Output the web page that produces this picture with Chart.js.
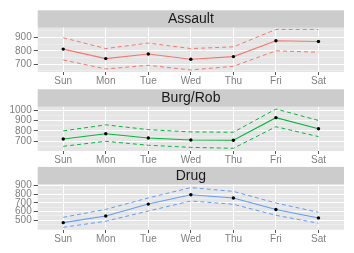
<!DOCTYPE html>
<html>
<head>
<meta charset="utf-8">
<script src="https://cdn.jsdelivr.net/npm/chart.js@4/dist/chart.umd.min.js"></script>
<style>
  html, body { margin: 0; padding: 0; background: #ffffff; }
  body { width: 354px; height: 253px; position: relative; overflow: hidden; }
  canvas { position: absolute; left: 0; pointer-events: none; }
</style>
</head>
<body>
<canvas id="assaultChart" width="354" height="88"></canvas>
<canvas id="burgChart" width="354" height="87"></canvas>
<canvas id="drugChart" width="354" height="86"></canvas>
<script>
const days = ['Sun', 'Mon', 'Tue', 'Wed', 'Thu', 'Fri', 'Sat'];

const assaultMean  = [813, 742, 777, 737, 757, 875, 870];
const assaultUpper = [898, 817, 858, 817, 830, 960, 960];
const assaultLower = [732, 665, 692, 657, 685, 800, 790];

const burgMean  = [722, 773, 732, 712, 710, 927, 821];
const burgUpper = [800, 858, 812, 790, 787, 1010, 900];
const burgLower = [652, 700, 662, 642, 633, 840, 745];

const drugMean  = [473, 549, 685, 792, 754, 624, 527];
const drugUpper = [534, 625, 755, 873, 830, 697, 591];
const drugLower = [420, 489, 606, 720, 683, 557, 466];

const assaultTicks = [700, 800, 900];
const burgTicks = [700, 800, 900, 1000];
const drugTicks = [500, 600, 700, 800, 900];

const FONT = '"Liberation Sans", Arial, sans-serif';

// grey panel + facet strip behind everything
const panelPlugin = {
    id: 'panel',
    beforeDraw(chart, args, opts) {
        const { ctx, chartArea: a } = chart;
        ctx.save();
        ctx.fillStyle = '#e5e5e5';
        ctx.fillRect(a.left, a.top, a.right - a.left, a.bottom - a.top);
        ctx.fillStyle = '#cccccc';
        ctx.fillRect(a.left, a.top - opts.stripHeight, a.right - a.left, opts.stripHeight);
        ctx.fillStyle = '#1a1a1a';
        ctx.font = '14px ' + FONT;
        ctx.textAlign = 'center';
        ctx.textBaseline = 'middle';
        ctx.fillText(opts.title, (a.left + a.right) / 2, a.top - opts.stripHeight / 2 + 0.5);
        ctx.restore();
    }
};

function points(values) {
    return values.map((v, i) => ({ x: i, y: v }));
}

function makePanel(id, title, mean, upper, lower, majors, range, color, canvasTop, plotTop) {
    const canvas = document.getElementById(id);
    canvas.style.top = canvasTop + 'px';
    const step = majors[1] - majors[0];
    const half = step / 2;

    return new Chart(canvas.getContext('2d'), {
        type: 'line',
        data: {
            datasets: [{
                data: points(upper),
                borderColor: color,
                borderWidth: 1,
                borderDash: [4, 3],
                pointRadius: 0
            }, {
                data: points(lower),
                borderColor: color,
                borderWidth: 1,
                borderDash: [4, 3],
                pointRadius: 0
            }, {
                data: points(mean),
                borderColor: color,
                borderWidth: 1.1,
                pointRadius: 1.7,
                pointBorderWidth: 0,
                pointBackgroundColor: '#000000'
            }]
        },
        plugins: [panelPlugin],
        options: {
            responsive: false,
            animation: false,
            devicePixelRatio: 1,
            layout: { padding: { top: plotTop - canvasTop, right: 10, left: 0, bottom: 0 } },
            elements: { line: { tension: 0 } },
            plugins: {
                legend: { display: false },
                tooltip: { enabled: false },
                panel: { title: title, stripHeight: 17.4 }
            },
            scales: {
                x: {
                    type: 'linear',
                    min: -0.6,
                    max: 6.6,
                    afterBuildTicks: scale => { scale.ticks = days.map((d, i) => ({ value: i })); },
                    afterFit: scale => { scale.height = 16; },
                    border: { display: false },
                    grid: { color: '#ffffff', lineWidth: 1, tickLength: 3, tickColor: '#555555' },
                    ticks: {
                        autoSkip: false,
                        maxRotation: 0,
                        padding: 0,
                        color: '#7f7f7f',
                        font: { family: FONT, size: 10 },
                        callback: v => days[v]
                    }
                },
                y: {
                    min: range[0],
                    max: range[1],
                    afterBuildTicks: scale => {
                        const list = [];
                        for (let v = Math.ceil(range[0] / half) * half; v <= range[1]; v += half) {
                            list.push({ value: v });
                        }
                        scale.ticks = list;
                    },
                    afterFit: scale => { scale.width = 37.7; },
                    border: { display: false },
                    grid: {
                        color: ctx => (ctx.tick && majors.includes(ctx.tick.value)) ? '#ffffff' : '#f2f2f2',
                        lineWidth: ctx => (ctx.tick && majors.includes(ctx.tick.value)) ? 1 : 0.6,
                        tickLength: 4,
                        tickColor: ctx => (ctx.tick && majors.includes(ctx.tick.value)) ? '#555555' : 'rgba(0,0,0,0)'
                    },
                    ticks: {
                        autoSkip: false,
                        padding: 2,
                        color: '#7f7f7f',
                        font: { family: FONT, size: 10 },
                        callback: v => majors.includes(v) ? String(v) : ''
                    }
                }
            }
        }
    });
}

makePanel('assaultChart', 'Assault', assaultMean, assaultUpper, assaultLower,
    assaultTicks, [642, 973], '#F8766D', 0, 27.7);
makePanel('burgChart', 'Burg/Rob', burgMean, burgUpper, burgLower,
    burgTicks, [607, 1032], '#00BA38', 80, 106.7);
makePanel('drugChart', 'Drug', drugMean, drugUpper, drugLower,
    drugTicks, [389, 911], '#619CFF', 160, 184.3);
</script>
</body>
</html>
